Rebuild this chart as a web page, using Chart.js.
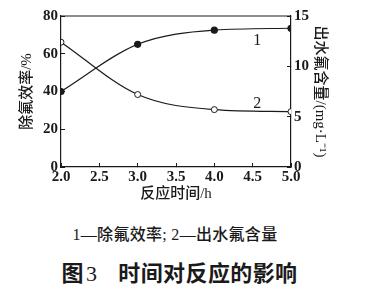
<!DOCTYPE html>
<html>
<head>
<meta charset="utf-8">
<script src="https://cdn.jsdelivr.net/npm/chart.js@4/dist/chart.umd.min.js"></script>
<style>
  html, body { margin: 0; padding: 0; background: #fff; }
  #wrap { position: relative; width: 371px; height: 292px; overflow: hidden; }
  #box { position: absolute; left: 0; top: 0; width: 371px; height: 207px; }
  .cap { position: absolute; left: 0; width: 371px; text-align: center; color: #1a1a1a; white-space: pre; box-sizing: border-box; }
  #legend { top: 223px; font: 16px "Liberation Serif", serif; line-height: 20px; letter-spacing: 0.3px; padding-right: 21px; }
  #legend .zh { font-family: "Noto Sans CJK SC", sans-serif; font-weight: 500; }
  #title { top: 258px; font: 22px "Liberation Serif", serif; line-height: 26px; letter-spacing: 0.4px; padding-right: 12px; }
  #title .zh { font-family: "Noto Sans CJK SC", sans-serif; font-weight: 700; }
  #title .num { margin-left: 2px; margin-right: 21px; }
</style>
</head>
<body>
<div id="wrap">
  <div id="box"><canvas id="chart"></canvas></div>
  <div id="legend" class="cap">1—<span class="zh">除氟效率</span>; 2—<span class="zh">出水氟含量</span></div>
  <div id="title" class="cap"><span class="zh">图</span><span class="num">3</span><span class="zh">时间对反应的影响</span></div>
</div>
<script>
/* ─── Data ───────────────────────────────────────────────── */
const hours      = [2.0, 3.0, 4.0, 5.0];
const removal    = [40, 65, 72.5, 73.5];     // 除氟效率 / %
const effluentF  = [12.4, 7.2, 5.7, 5.5];    // 出水氟含量 / (mg·L-1)
const xTicks     = [2.0, 2.5, 3.0, 3.5, 4.0, 4.5, 5.0];
const curveNames = ['1', '2'];

const INK = '#1a1a1a';
const TICK_FONT = { family: '"Liberation Serif", "Times New Roman", serif', size: 15, weight: 'bold' };
const ZH_FONT   = { family: '"Liberation Serif", "Noto Sans CJK SC", sans-serif', size: 15, weight: '500' };

/* ─── Frame top line + curve numbers ─────────────────────── */
const extras = {
  id: 'extras',
  afterDatasetsDraw(chart) {
    const { ctx, chartArea: a, scales } = chart;
    ctx.save();
    ctx.strokeStyle = INK;
    ctx.lineWidth = 1.2;
    ctx.beginPath();
    ctx.moveTo(a.left, a.top);
    ctx.lineTo(a.right, a.top);
    ctx.stroke();
    ctx.fillStyle = INK;
    ctx.font = '16px "Liberation Serif", serif';
    ctx.textAlign = 'center';
    ctx.textBaseline = 'middle';
    ctx.fillText(curveNames[0], scales.x.getPixelForValue(4.56), scales.y.getPixelForValue(66.8));
    ctx.fillText(curveNames[1], scales.x.getPixelForValue(4.56), scales.y1.getPixelForValue(6.3));
    ctx.restore();
  }
};

const axisBorder = { display: true, color: INK, width: 1.2 };
const inwardTicks = { display: true, drawOnChartArea: false, drawTicks: true, tickLength: -4, color: INK, lineWidth: 1 };

new Chart(document.getElementById('chart'), {
  type: 'line',
  data: {
    datasets: [{
      label: '除氟效率',
      data: hours.map((h, i) => ({ x: h, y: removal[i] })),
      yAxisID: 'y',
      borderColor: INK,
      borderWidth: 1.2,
      pointRadius: 3,
      pointBackgroundColor: INK,
      pointBorderColor: INK,
      cubicInterpolationMode: 'monotone'
    }, {
      label: '出水氟含量',
      data: hours.map((h, i) => ({ x: h, y: effluentF[i] })),
      yAxisID: 'y1',
      borderColor: INK,
      borderWidth: 1.2,
      pointRadius: 3,
      pointBackgroundColor: '#fff',
      pointBorderColor: INK,
      pointBorderWidth: 1,
      cubicInterpolationMode: 'monotone'
    }]
  },
  options: {
    responsive: true,
    maintainAspectRatio: false,
    animation: false,
    layout: { padding: { top: 15 } },
    plugins: { legend: { display: false }, tooltip: { enabled: false } },
    scales: {
      x: {
        type: 'linear',
        min: 2, max: 5,
        afterBuildTicks: s => { s.ticks = xTicks.map(v => ({ value: v })); },
        afterFit: s => { s.height = 40; },
        border: axisBorder,
        grid: inwardTicks,
        ticks: { color: INK, font: TICK_FONT, padding: 5, maxRotation: 0, callback: v => v.toFixed(1) },
        title: { display: true, text: '反应时间/h', color: INK, font: ZH_FONT, padding: { top: 0, bottom: 4 } }
      },
      y: {
        position: 'left',
        min: 0, max: 80,
        afterFit: s => { s.width = 61; },
        border: axisBorder,
        grid: inwardTicks,
        ticks: { stepSize: 20, autoSkip: false, color: INK, font: TICK_FONT, padding: 7 },
        title: { display: true, text: '除氟效率/%', color: INK, font: ZH_FONT, padding: { top: 18, bottom: 0 } }
      },
      y1: {
        position: 'right',
        min: 0, max: 15,
        afterFit: s => { s.width = 80; },
        border: axisBorder,
        grid: inwardTicks,
        ticks: { stepSize: 5, autoSkip: false, color: INK, font: TICK_FONT, padding: 7 },
        title: { display: true, text: '出水氟含量/(mg·L⁻¹)', color: INK, font: ZH_FONT, padding: { top: 42, bottom: 0 } }
      }
    }
  },
  plugins: [extras]
});
</script>
</body>
</html>
